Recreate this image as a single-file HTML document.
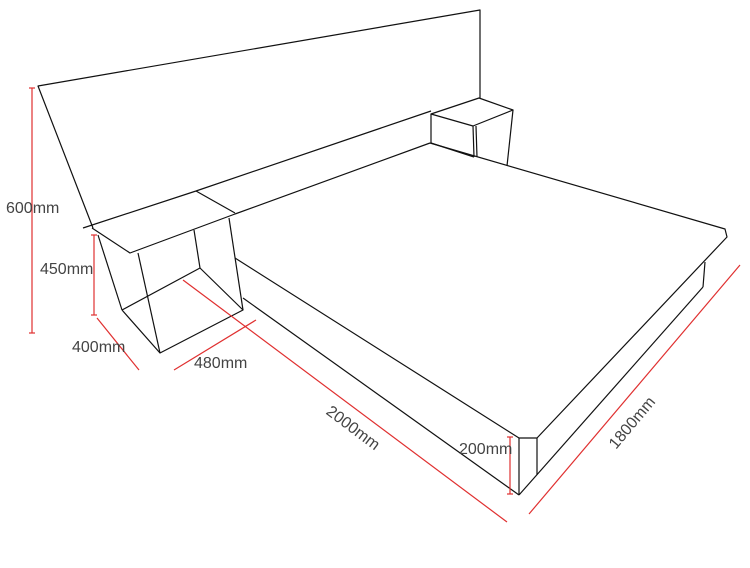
<!DOCTYPE html>
<html><head><style>
html,body{margin:0;padding:0;background:#fff;}
svg{display:block;}
text{font-family:"Liberation Sans",sans-serif;font-size:16px;fill:#444;}
</style></head><body>
<svg width="750" height="568" viewBox="0 0 750 568" xmlns="http://www.w3.org/2000/svg">
<g fill="none" stroke="#111" stroke-width="1.2" stroke-linejoin="round">
<polyline points="93,228 38,86 480,10 480,98"/>
<line x1="83" y1="228" x2="196" y2="191"/>
<line x1="196" y1="191" x2="431" y2="111"/>
<line x1="196" y1="191" x2="235" y2="213"/>
<line x1="235" y1="214" x2="430" y2="143"/>
<polyline points="92,228 130,253 235,214"/>
<line x1="98" y1="235" x2="122" y2="310"/>
<line x1="138" y1="253" x2="160" y2="353"/>
<line x1="229" y1="218" x2="243" y2="310"/>
<line x1="194" y1="230" x2="200" y2="268"/>
<polyline points="122,310 160,353 243,310 200,268 122,310"/>
<polygon points="431,114 479,98 513,110 473,126"/>
<line x1="431" y1="114" x2="431" y2="143"/>
<line x1="473" y1="126" x2="474" y2="157"/>
<line x1="476" y1="126" x2="477" y2="157"/>
<line x1="513" y1="110" x2="507" y2="166"/>
<line x1="431" y1="143" x2="474" y2="157"/>
<polyline points="430,143 725,229 727,237 537,438 519,438 235,258"/>
<line x1="243" y1="298" x2="519" y2="495"/>
<line x1="519" y1="438" x2="519" y2="495"/>
<line x1="537" y1="438" x2="537" y2="475"/>
<line x1="519" y1="495" x2="703" y2="287"/>
<line x1="705" y1="262" x2="703" y2="287"/>
</g>
<g stroke="#e03030" stroke-width="1.2" fill="none">
<line x1="32" y1="88" x2="32" y2="333"/><line x1="29" y1="88" x2="35" y2="88"/><line x1="29" y1="333" x2="35" y2="333"/>
<line x1="94" y1="235" x2="94" y2="315"/><line x1="91" y1="235" x2="97" y2="235"/><line x1="91" y1="315" x2="97" y2="315"/>
<line x1="97" y1="318" x2="139" y2="370"/>
<line x1="174" y1="370" x2="256" y2="320"/>
<line x1="183" y1="280" x2="507" y2="522"/>
<line x1="510" y1="437" x2="510" y2="494"/><line x1="507" y1="437" x2="513" y2="437"/><line x1="507" y1="494" x2="513" y2="494"/>
<line x1="529" y1="514" x2="740" y2="265"/>
</g>
<text x="6" y="213">600mm</text>
<text x="40" y="274">450mm</text>
<text x="72" y="352">400mm</text>
<text x="194" y="368">480mm</text>
<text x="459" y="454">200mm</text>
<text transform="translate(350,432) rotate(37)" text-anchor="middle">2000mm</text>
<text transform="translate(636,426) rotate(-50)" text-anchor="middle">1800mm</text>
</svg>
</body></html>
